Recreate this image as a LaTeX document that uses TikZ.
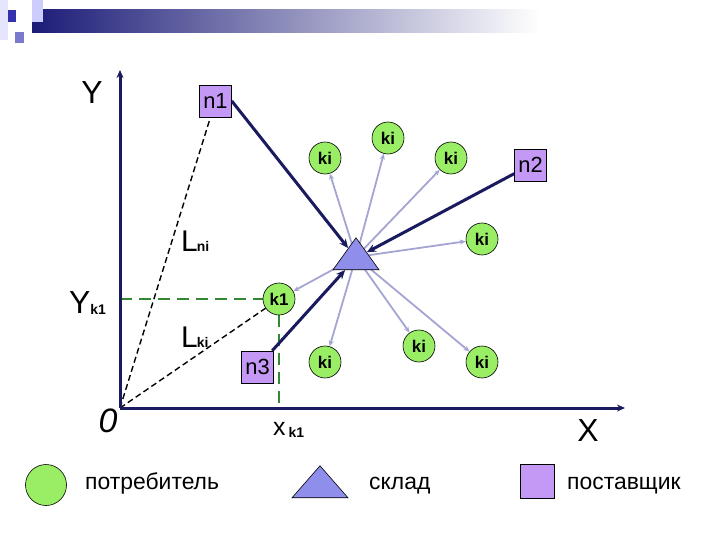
\documentclass[tikz,border=0pt]{standalone}
\usepackage{fontspec}
\setmainfont{Liberation Sans}
\usetikzlibrary{shapes.geometric,arrows.meta}
\pgfdeclarelayer{bg}
\pgfdeclarelayer{paper}
\pgfsetlayers{paper,bg,main}
\definecolor{navy}{RGB}{26,26,94}
\definecolor{hdr}{RGB}{28,28,120}
\definecolor{cgreen}{RGB}{153,238,102}
\definecolor{cpurple}{RGB}{196,153,245}
\definecolor{ctri}{RGB}{143,143,235}
\definecolor{carrow}{RGB}{165,165,212}
\definecolor{gdash}{RGB}{51,136,51}
\newcommand{\fs}[1]{\fontsize{#1}{#1}\selectfont}
\tikzset{
  cons/.style={circle, draw=black, line width=0.6bp, fill=cgreen, minimum size=32bp, inner sep=0pt, font=\fs{17}\bfseries},
  supp/.style={rectangle, draw=black, line width=0.6bp, fill=cpurple, minimum size=32bp, inner sep=0pt, font=\fs{22}},
  depot/.style={isosceles triangle, isosceles triangle stretches, shape border rotate=90, draw=black, line width=0.6bp, fill=ctri, inner sep=0pt, anchor=apex},
  flow/.style={draw=carrow, line width=1.8bp, -{Stealth[length=6bp,width=5bp]}},
  supply/.style={draw=navy, line width=3bp, -{Stealth[length=9bp,width=8bp]}},
  axis/.style={draw=navy, line width=3bp, -{Stealth[length=8bp,width=7bp]}},
  blackdash/.style={draw=black, line width=1.4bp, dash pattern=on 6bp off 3.5bp},
  greendash/.style={draw=gdash, line width=1.6bp, dash pattern=on 12bp off 7bp},
  lbl/.style={inner sep=0pt, anchor=base west},
}
\begin{document}
\begin{tikzpicture}[x=1bp,y=-1bp]
\useasboundingbox (0,0) rectangle (720,540);
% header decoration
\begin{pgfonlayer}{paper}
\fill[white] (0,0) rectangle (720,540);
\fill[black!5!blue!10] (0,0) rectangle (8,40);
\shade[left color=hdr, right color=white] (32,10) rectangle (540,33);
\fill[blue!60!black!80] (8,10) rectangle (16,22);
\fill[blue!20!white] (32,0) rectangle (43,22);
\fill[blue!40!white!80!black] (15,32) rectangle (24,43);
\end{pgfonlayer}

% axes
\coordinate (O) at (120,408);
\coordinate (Ytip) at (120,70);
\coordinate (Xtip) at (625,408);
\draw[axis] (O) -- (Ytip);
\draw[axis] (O) -- (Xtip);

% suppliers
\node[supp] (n1) at (215.5,101) {n1};
\node[supp] (n2) at (530.5,165) {n2};
\node[supp] (n3) at (257.5,367) {n3};

% consumers
\node[cons] (ka) at (325,158) {ki};
\node[cons] (kb) at (388,138) {ki};
\node[cons] (kc) at (451,158) {ki};
\node[cons] (kd) at (482,239) {ki};
\node[cons] (k1) at (279,299) {k1};
\node[cons] (ke) at (325,362) {ki};
\node[cons] (kf) at (419,346) {ki};
\node[cons] (kg) at (482,362) {ki};

% depot
\node[depot, minimum width=46bp, minimum height=32bp] (tri) at (356,237) {};
\coordinate (wc) at (356,257);

\begin{pgfonlayer}{bg}
\foreach \k in {ka,kb,kc,kd,k1,ke,kf,kg} \draw[flow] (wc) -- (\k);
\draw[blackdash, shorten >=4bp] (O) -- (n1);
\draw[blackdash] (O) -- (k1);
\draw[greendash] (O |- k1) -- (k1.west);
\draw[greendash] (k1.south) -- (k1 |- O);
\end{pgfonlayer}

\draw[supply] (n1.east) -- (tri);
\draw[supply] (n2) -- (tri);
\draw[supply] (n3) -- (tri);

% labels
\node[font=\fs{32}] (ylab) at (92,93) {Y};
\node[font=\fs{32}] (xlab) at (588,431) {X};
\node[font=\fs{34}\itshape] (olab) at (108,421) {0};
\node[lbl, font=\fs{32}] (yk) at (69,313) {Y\raisebox{-1bp}{\fs{14}\bfseries k1}};
\node[lbl, font=\fs{25}] (xk) at (273,435) {x\kern3bp\raisebox{-2bp}{\fs{14}\bfseries k1}};
\node[lbl, font=\fs{30}] (lni) at (181,252) {L\kern-1bp{\fs{14}\bfseries ni}};
\node[lbl, font=\fs{30}] (lki) at (181,347) {L\kern-1bp{\fs{14}\bfseries ki}};

% legend
\node[cons, minimum size=41bp] (lc) at (46,485) {};
\node[lbl, font=\fs{23}] (lct) at (85,489) {потребитель};
\node[depot, minimum width=56bp, minimum height=32bp] (lt) at (320,465) {};
\node[lbl, font=\fs{23}] (ltt) at (369,489) {склад};
\node[supp, minimum size=34bp] (ls) at (537.5,481.5) {};
\node[lbl, font=\fs{23}] (lst) at (567,489) {поставщик};
\end{tikzpicture}
\end{document}
